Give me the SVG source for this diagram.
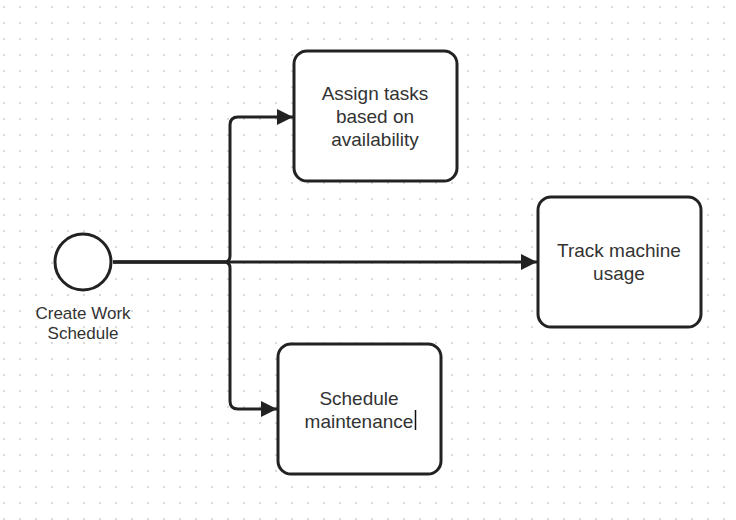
<svg xmlns="http://www.w3.org/2000/svg" width="736" height="520" viewBox="0 0 736 520">
<defs>
<pattern id="grid" x="0" y="0" width="16" height="16" patternUnits="userSpaceOnUse">
<circle cx="4" cy="7" r="0.9" fill="#c8c8c8"/>
</pattern>
<marker id="arr" markerUnits="userSpaceOnUse" markerWidth="18" markerHeight="16" refX="16" refY="8" orient="auto">
<path d="M0,0 L16,8 L0,16 Z" fill="#222"/>
</marker>
<style>
.box{fill:#fff;stroke:#222;stroke-width:3}
.conn{fill:none;stroke:#222;stroke-width:3}
.t{font-family:"Liberation Sans",Arial,sans-serif;font-size:19px;fill:#333;text-anchor:middle}
.lbl{font-family:"Liberation Sans",Arial,sans-serif;font-size:17px;fill:#333;text-anchor:middle}
</style>
</defs>
<rect width="736" height="520" fill="#fff"/>
<rect width="736" height="520" fill="url(#grid)"/>
<g id="connectors">
<path class="conn" d="M113,262 H224 Q230,262 230,256 V125 Q230,117 238,117 H293" marker-end="url(#arr)"/>
<path class="conn" d="M113,262 H537" marker-end="url(#arr)"/>
<path class="conn" d="M113,262 H224 Q230,262 230,268 V401 Q230,409 238,409 H277" marker-end="url(#arr)"/>
</g>
<g id="start">
<circle cx="83" cy="262" r="28" fill="#fff" stroke="#222" stroke-width="3"/>
<text class="lbl" x="83" y="319">Create Work</text>
<text class="lbl" x="83" y="339">Schedule</text>
</g>
<g id="assign">
<rect class="box" x="294" y="51" width="163" height="130" rx="13"/>
<text class="t" x="375" y="100">Assign tasks</text>
<text class="t" x="375" y="123">based on</text>
<text class="t" x="375" y="146">availability</text>
</g>
<g id="track">
<rect class="box" x="538" y="197" width="163" height="130" rx="13"/>
<text class="t" x="619" y="257">Track machine</text>
<text class="t" x="619" y="280">usage</text>
</g>
<g id="maintenance">
<rect class="box" x="278" y="344" width="163" height="130" rx="13"/>
<text class="t" x="359" y="405">Schedule</text>
<text class="t" x="359" y="428">maintenance</text>
<line x1="415.5" y1="410" x2="415.5" y2="430" stroke="#111" stroke-width="1.5"/>
</g>
</svg>
